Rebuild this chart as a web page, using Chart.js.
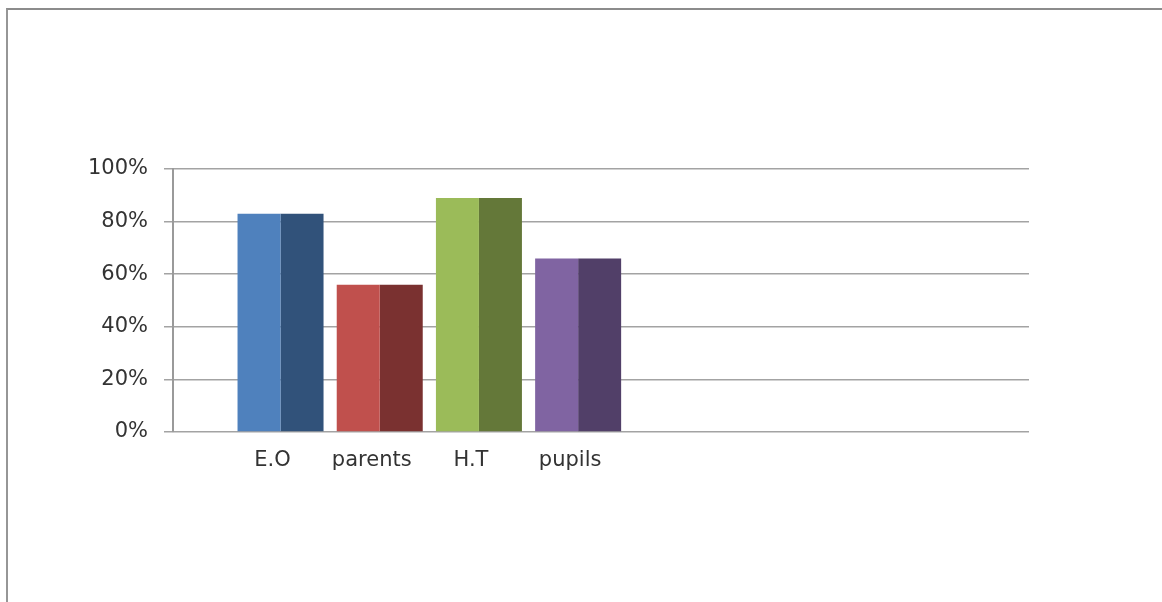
<!DOCTYPE html>
<html>
<head>
<meta charset="utf-8">
<script src="https://cdn.jsdelivr.net/npm/chart.js@4/dist/chart.umd.min.js"></script>
<style>
  html, body { margin: 0; padding: 0; background: #fff; overflow: hidden; }
  #wrap { position: relative; width: 1162px; height: 602px; }
  #frame {
    position: absolute; left: 6px; top: 8px; width: 1300px; height: 700px;
    border-top: 2px solid #8c8c8c; border-left: 2px solid #969696;
  }
  canvas { position: absolute; left: 0; top: 0; }
</style>
</head>
<body>
<div id="wrap">
  <div id="frame"></div>
  <canvas id="chart" width="1162" height="602"></canvas>
</div>
<script>
// 類別與數值
const categories = ["E.O", "parents", "H.T", "pupils"];
const positions = [1, 2, 3, 4];
const values = [83, 56, 89, 66];
const yTicks = [0, 20, 40, 60, 80, 100];

// 正面（亮）與側面（暗）配色，模擬 Excel 立體長條
const FRONT = ["#4f81bd", "#c0504d", "#9bbb59", "#8064a2"];
const SIDE = ["#31527a", "#7a3130", "#647839", "#513f68"];

const points = positions.map((x, i) => ({ x, y: values[i] }));

new Chart(document.getElementById("chart").getContext("2d"), {
  type: "bar",
  data: {
    datasets: [
      { data: points, backgroundColor: FRONT, borderWidth: 0 },
      { data: points, backgroundColor: SIDE, borderWidth: 0 },
    ],
  },
  options: {
    responsive: false,
    animation: false,
    layout: { padding: { left: 0, right: 133, top: 169, bottom: 0 } },
    plugins: { legend: { display: false }, tooltip: { enabled: false } },
    datasets: { bar: { categoryPercentage: 0.867, barPercentage: 1 } },
    scales: {
      x: {
        type: "linear",
        offset: false,
        bounds: "data",
        min: -0.084,
        max: 8.545,
        afterBuildTicks: (axis) => { axis.ticks = positions.map((v) => ({ value: v })); },
        afterFit: (axis) => { axis.height = 170; },
        grid: { display: false, drawTicks: false },
        border: { display: false },
        ticks: {
          callback: (v) => categories[positions.indexOf(v)] || "",
          font: { family: "DejaVu Sans", size: 21 },
          color: "#333",
          padding: 16,
          labelOffset: -8,
          maxRotation: 0,
          autoSkip: false,
        },
      },
      y: {
        min: 0,
        max: 100,
        afterBuildTicks: (axis) => { axis.ticks = yTicks.map((v) => ({ value: v })); },
        afterFit: (axis) => { axis.width = 173; },
        grid: { color: "#a3a3a3", lineWidth: 1.5, tickLength: 9 },
        border: { color: "#9a9a9a", width: 2 },
        ticks: {
          callback: (v) => v + "%",
          font: { family: "DejaVu Sans", size: 21 },
          color: "#333",
          padding: 16,
        },
      },
    },
  },
});
</script>
</body>
</html>
